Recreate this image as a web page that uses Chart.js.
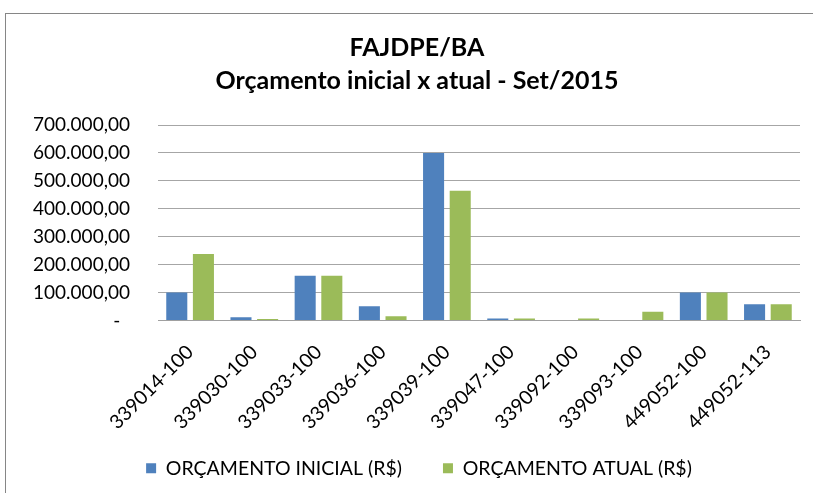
<!DOCTYPE html>
<html>
<head>
<meta charset="utf-8">
<script src="https://cdn.jsdelivr.net/npm/chart.js@4"></script>
<style>
  html, body { margin: 0; padding: 0; background: #fff; overflow: hidden; }
  #box {
    position: absolute; left: 5px; top: 13px;
    width: 850px; height: 480px;
    border-left: 1px solid #868686; border-top: 1px solid #868686;
  }
  #wrap { position: absolute; left: 0; top: 0; width: 807px; height: 480px; }
</style>
</head>
<body>
<div id="box"><div id="wrap"><canvas id="grafico"></canvas></div></div>
<script>
const categorias = [
  "339014-100", "339030-100", "339033-100", "339036-100", "339039-100",
  "339047-100", "339092-100", "339093-100", "449052-100", "449052-113"
];
const orcInicial = [100000, 12000, 160000, 51000, 600000, 7000, 0, 0, 100000, 58000];
const orcAtual   = [238000, 5000, 160000, 15000, 465000, 7000, 7000, 31000, 100000, 58000];
const ticksY = [0, 100000, 200000, 300000, 400000, 500000, 600000, 700000];

const fonte = "Lato, 'Open Sans', sans-serif";

function formataValor(v) {
  if (v === 0) return "-  ";
  let inteiro = Math.round(v).toString().replace(/\B(?=(\d{3})+(?!\d))/g, ".");
  return inteiro + ",00";
}

// the frame in the original runs past the right edge, so title and legend sit a bit right of centre
const ajusteLayout = {
  id: 'ajusteLayout',
  afterLayout(chart) {
    chart.titleBlock.left += 14;
    chart.titleBlock.right += 14;
    chart.legend.left += 16;
    chart.legend.right += 16;
    // let the rotated labels run down past the axis box
    chart.scales.x.bottom = chart.scales.x.top + 140;
  }
};

const ctx = document.getElementById('grafico');

new Chart(ctx, {
  type: 'bar',
  data: {
    labels: categorias,
    datasets: [
      {
        label: "ORÇAMENTO INICIAL (R$)",
        data: orcInicial,
        backgroundColor: "#4F81BD",
        categoryPercentage: 0.83,
        barPercentage: 0.79
      },
      {
        label: "ORÇAMENTO ATUAL (R$)",
        data: orcAtual,
        backgroundColor: "#9BBB59",
        categoryPercentage: 0.83,
        barPercentage: 0.79
      }
    ]
  },
  plugins: [ajusteLayout],
  options: {
    responsive: true,
    maintainAspectRatio: false,
    animation: false,
    layout: { padding: { left: 0, right: 13, top: 0, bottom: 6 } },
    plugins: {
      title: {
        display: true,
        text: ["FAJDPE/BA", "Orçamento inicial x atual - Set/2015"],
        color: "#000",
        font: { family: fonte, size: 25, weight: 'bold', lineHeight: 1.32 },
        padding: { top: 17, bottom: 28 }
      },
      legend: {
        position: 'bottom',
        labels: {
          color: "#000",
          font: { family: fonte, size: 19.5 },
          boxWidth: 10,
          boxHeight: 10,
          padding: 41
        }
      },
      tooltip: { enabled: false }
    },
    scales: {
      x: {
        grid: { display: false, drawTicks: false },
        border: { display: true, color: "#A0A0A0" },
        ticks: {
          color: "#000",
          font: { family: fonte, size: 19.5 },
          minRotation: 45,
          maxRotation: 45,
          padding: 20,
          labelOffset: 0
        },
        afterFit: function (scale) { scale.height = 97; }
      },
      y: {
        min: 0,
        max: 700000,
        afterBuildTicks: function (scale) {
          scale.ticks = ticksY.map(v => ({ value: v }));
        },
        grid: { color: "#A6A6A6", drawTicks: false },
        border: { display: false },
        ticks: {
          color: "#000",
          font: { family: fonte, size: 19 },
          padding: 28,
          callback: function (v) { return formataValor(v); }
        },
        afterFit: function (scale) { scale.width = 152; }
      }
    }
  }
});
</script>
</body>
</html>
